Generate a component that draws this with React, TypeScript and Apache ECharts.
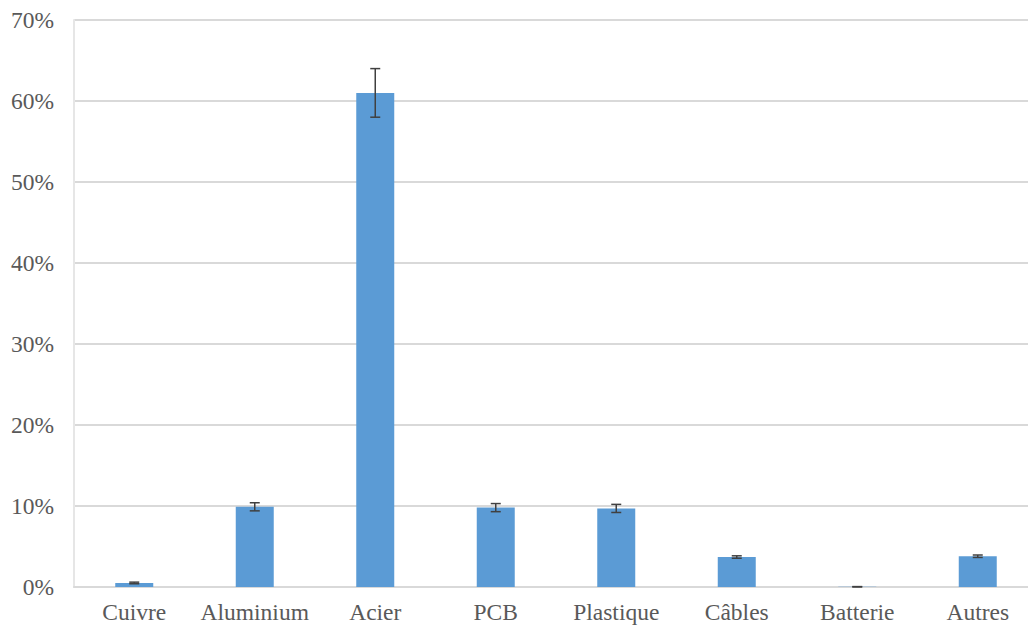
import React, { useEffect, useRef } from "react";
import * as echarts from "echarts";

const categories = ["Cuivre", "Aluminium", "Acier", "PCB", "Plastique", "Câbles", "Batterie", "Autres"];
const values = [0.5, 9.9, 61.0, 9.8, 9.7, 3.7, 0.03, 3.8];
const errors = [0.1, 0.5, 3.0, 0.5, 0.5, 0.15, 0.02, 0.15];
const yTicks = [0, 10, 20, 30, 40, 50, 60, 70];

export default function App() {
  const ref = useRef<HTMLDivElement>(null);
  useEffect(() => {
    const chart = echarts.init(ref.current!, null, { renderer: "svg" });
    const errData = values.map((v, i) => [i, v - errors[i], v + errors[i]]);
    chart.setOption({
      animation: false,
      grid: { left: 74, top: 20, width: 964, bottom: 42, containLabel: false, outerBoundsMode: "none" },
      xAxis: {
        type: "category",
        data: categories,
        axisTick: { show: false },
        axisLine: { lineStyle: { color: "#d9d9d9", width: 2 } },
        axisLabel: {
          color: "#595959",
          fontFamily: "Liberation Serif",
          fontSize: 23.5,
          margin: 13,
          interval: 0,
          hideOverlap: false,
        },
      },
      yAxis: {
        type: "value",
        min: 0,
        max: 70,
        interval: 10,
        axisLine: { show: true, lineStyle: { color: "#e6e6e6", width: 2 } },
        axisTick: { show: false },
        splitLine: { lineStyle: { color: "#d9d9d9", width: 2 } },
        axisLabel: {
          color: "#595959",
          fontFamily: "Liberation Serif",
          fontSize: 23.5,
          margin: 20,
          formatter: (v: number) => (yTicks.includes(v) ? v + "%" : ""),
        },
      },
      series: [
        {
          type: "bar",
          data: values,
          barWidth: 38,
          itemStyle: { color: "#5b9bd5" },
        },
        {
          type: "custom",
          data: errData,
          z: 10,
          renderItem: (params: any, api: any) => {
            const x = api.value(0);
            const lo = api.coord([x, api.value(1)]);
            const hi = api.coord([x, api.value(2)]);
            const hw = 5;
            const style = { stroke: "#404040", lineWidth: 1.5 };
            return {
              type: "group",
              children: [
                { type: "line", shape: { x1: lo[0], y1: lo[1], x2: hi[0], y2: hi[1] }, style },
                { type: "line", shape: { x1: lo[0] - hw, y1: lo[1], x2: lo[0] + hw, y2: lo[1] }, style },
                { type: "line", shape: { x1: hi[0] - hw, y1: hi[1], x2: hi[0] + hw, y2: hi[1] }, style },
              ],
            };
          },
        },
      ],
    });
    return () => chart.dispose();
  }, []);
  return <div ref={ref} style={{ width: 1028, height: 629, position: "absolute", left: 0, top: 0, background: "#fff" }} />;
}
